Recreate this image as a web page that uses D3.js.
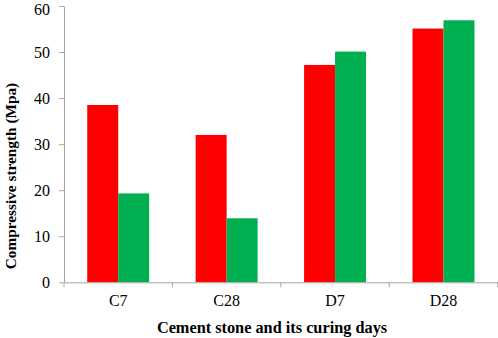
<!DOCTYPE html>
<html><head><meta charset="utf-8">
<script src="https://cdn.jsdelivr.net/npm/d3@7"></script>
<style>body{margin:0;background:#fff}svg{display:block}</style>
</head><body>
<svg id="c" width="498" height="338"></svg>
<script>
const categories = ["C7", "C28", "D7", "D28"];
const seriesRed = [38.5, 32.0, 47.2, 55.1];
const seriesGreen = [19.3, 13.9, 50.1, 56.9];
const yTicks = [0, 10, 20, 30, 40, 50, 60];
const colors = ["#ff0000", "#00b050"];

const svg = d3.select("#c");
const m = {left: 64};
const x = d3.scaleBand().domain(categories).range([m.left, 497.7]).paddingInner(0).paddingOuter(0);
const y = d3.scaleLinear().domain([0, 60]).range([282.3, 6]);
const barW = x.bandwidth() / 3.5;

[seriesRed, seriesGreen].forEach((s, i) => {
  svg.append("g").selectAll("rect").data(categories).join("rect")
    .attr("x", (d) => x(d) + x.bandwidth()/2 - barW + i*barW)
    .attr("width", barW)
    .attr("y", (d, j) => y(s[j]))
    .attr("height", (d, j) => y(0) - y(s[j]))
    .attr("fill", colors[i]);
});

const font = "'Liberation Serif', 'Times New Roman', serif";
const axisColor = "#a6a6a6";

const yAxis = svg.append("g").attr("transform", `translate(${m.left},0)`)
  .call(d3.axisLeft(y).tickValues(yTicks).tickSize(5).tickPadding(9).tickSizeOuter(0));
yAxis.select(".domain").attr("stroke", axisColor);
yAxis.selectAll(".tick line").attr("stroke", axisColor);
yAxis.selectAll("text").attr("font-family", font).attr("font-size", 16).attr("fill", "#000");
yAxis.selectAll(".tick").filter(d => d === 60).select("text").attr("dy", "0.5em");

const xAxis = svg.append("g").attr("transform", `translate(0,${y(0)})`)
  .call(d3.axisBottom(x).tickSize(0).tickPadding(12).tickSizeOuter(0));
xAxis.select(".domain").attr("stroke", axisColor);
xAxis.selectAll("text").attr("font-family", font).attr("font-size", 16).attr("fill", "#000");
const seps = categories.map(c => x(c)).concat([x.range()[1]]);
svg.append("g").selectAll("line").data(seps).join("line")
  .attr("x1", d => d).attr("x2", d => d)
  .attr("y1", y(0)).attr("y2", y(0) + 5)
  .attr("stroke", axisColor);

svg.append("text").attr("x", 272).attr("y", 333)
  .attr("text-anchor", "middle").attr("font-family", font).attr("font-weight", "bold")
  .attr("font-size", 16.3).text("Cement stone and its curing days");

svg.append("text").attr("transform", "translate(16,176) rotate(-90)")
  .attr("text-anchor", "middle").attr("font-family", font).attr("font-weight", "bold")
  .attr("font-size", 15.3).text("Compressive strength (Mpa)");
</script>
</body></html>
